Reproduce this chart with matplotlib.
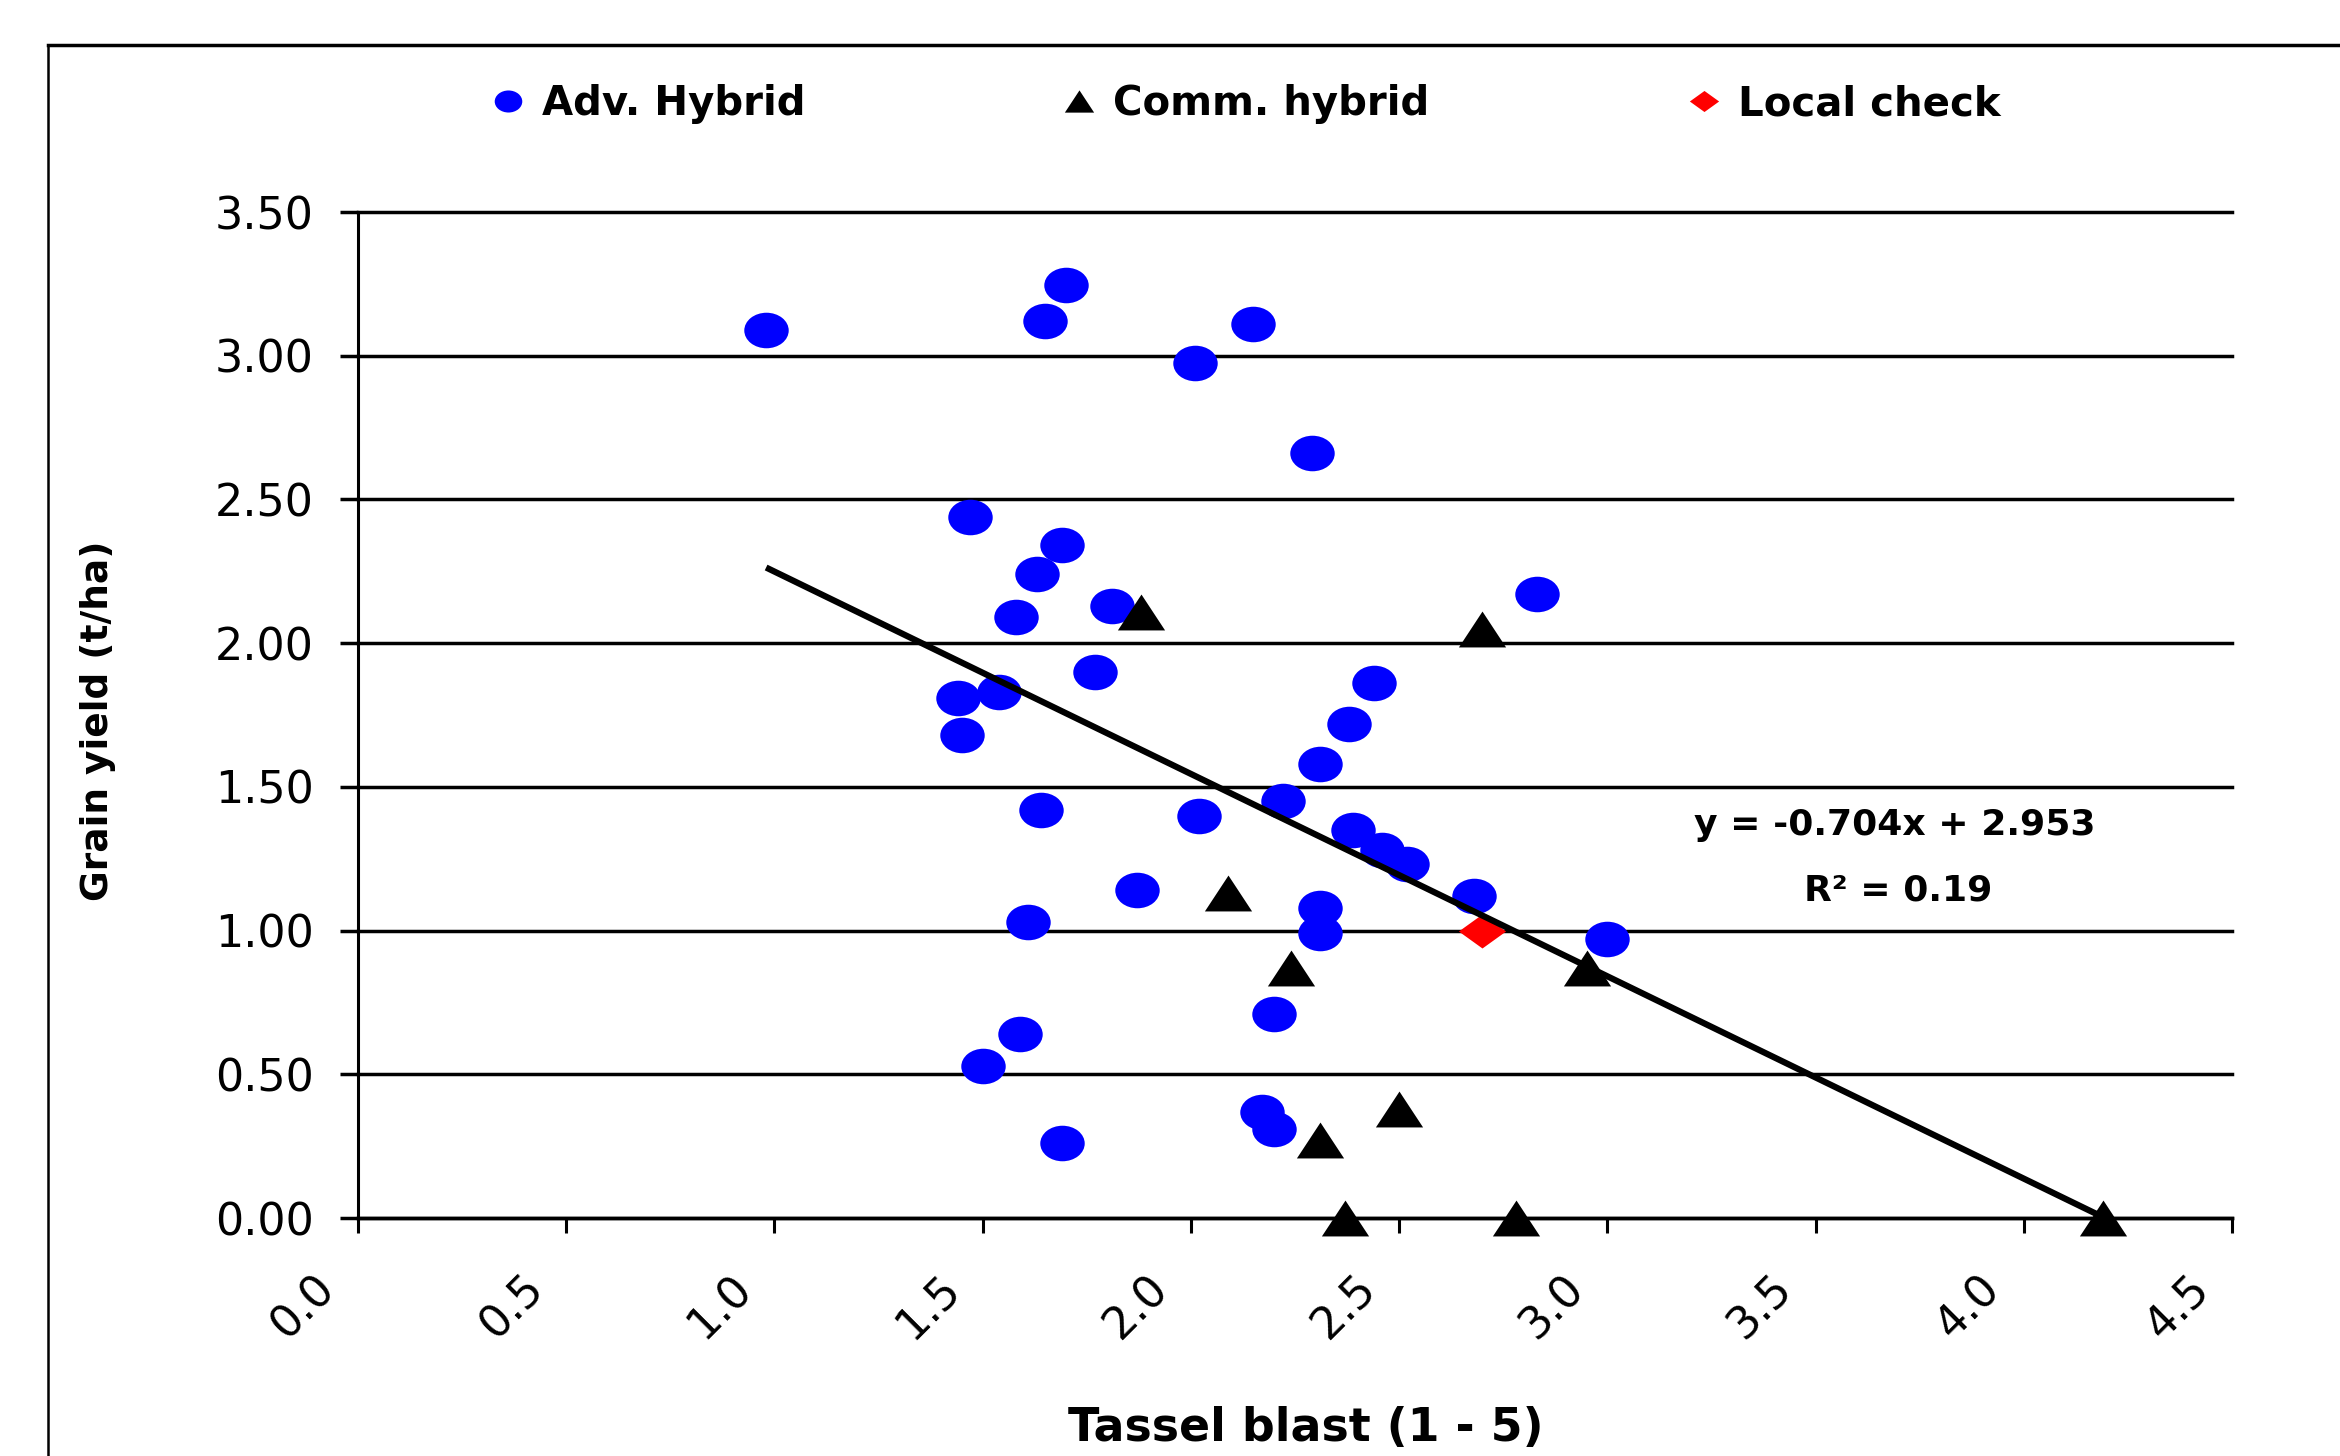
import numpy as np
import matplotlib
matplotlib.use("Agg")
import matplotlib.pyplot as plt
from matplotlib.path import Path
from matplotlib.transforms import Affine2D, ScaledTranslation
from matplotlib.lines import Line2D

# ---------------- data ----------------
adv_x = [0.98, 1.70, 1.65, 2.15, 2.01, 2.29, 1.47, 1.69, 1.63, 1.81, 1.58, 2.83,
         1.77, 1.44, 1.54, 1.45, 2.44, 2.38, 2.31, 2.22, 1.64, 2.02, 2.39, 2.46,
         2.52, 2.68, 1.87, 2.31, 2.31, 1.61, 3.00, 1.59, 1.50, 2.20, 2.17, 2.20, 1.69]
adv_y = [3.09, 3.245, 3.12, 3.11, 2.975, 2.66, 2.44, 2.34, 2.24, 2.13, 2.09, 2.17,
         1.90, 1.81, 1.83, 1.68, 1.86, 1.72, 1.58, 1.45, 1.42, 1.40, 1.35, 1.28,
         1.23, 1.12, 1.14, 1.08, 0.99, 1.03, 0.97, 0.64, 0.53, 0.71, 0.37, 0.31, 0.26]

comm_x = [1.88, 2.70, 2.09, 2.24, 2.95, 2.50, 2.31, 2.37, 2.78, 4.19]
comm_y = [2.11, 2.05, 1.13, 0.87, 0.87, 0.38, 0.27, 0.00, 0.00, 0.00]

local_x = [2.70]
local_y = [1.00]

slope, intercept, r2 = -0.704, 2.953, 0.19

x_ticks = [0.0, 0.5, 1.0, 1.5, 2.0, 2.5, 3.0, 3.5, 4.0, 4.5]
y_ticks = [0.0, 0.5, 1.0, 1.5, 2.0, 2.5, 3.0, 3.5]

series_labels = ["Adv. Hybrid", "Comm. hybrid", "Local check"]

# ---------------- figure ----------------
W, H = 2340, 1456
fig = plt.figure(figsize=(W / 100, H / 100), dpi=100)
ax = fig.add_axes([358 / W, 1 - 1218 / H, (2232 - 358) / W, (1218 - 212) / H])

ellipse = Affine2D().scale(1.0, 0.8).transform_path(Path.unit_circle())
tri = Path([(0, 0.76), (-1, -0.76), (1, -0.76), (0, 0.76)],
           [Path.MOVETO, Path.LINETO, Path.LINETO, Path.CLOSEPOLY])
diam = Path([(0, 0.72), (-1, 0), (0, -0.72), (1, 0), (0, 0.72)],
            [Path.MOVETO, Path.LINETO, Path.LINETO, Path.LINETO, Path.CLOSEPOLY])

ax.plot(adv_x, adv_y, ls="none", marker=ellipse, ms=32, mfc="#0000FF",
        mec="#0000FF", mew=0, label=series_labels[0], zorder=3)
ax.plot(comm_x, comm_y, ls="none", marker=tri, ms=34, mfc="black",
        mec="black", mew=0, label=series_labels[1], zorder=4, clip_on=False)
ax.plot(local_x, local_y, ls="none", marker=diam, ms=34, mfc="#FF0000",
        mec="#FF0000", mew=0, label=series_labels[2], zorder=4)

all_x = np.array(adv_x + comm_x + local_x)
xl = np.array([all_x.min(), all_x.max()])
ax.plot(xl, slope * xl + intercept, color="black", lw=4.5, zorder=5,
        solid_capstyle="butt", clip_on=False)

ax.set_xlim(0, 4.5)
ax.set_ylim(0, 3.5)
ax.set_xticks(x_ticks)
ax.set_yticks(y_ticks)
ax.set_xticklabels([f"{v:.1f}" for v in x_ticks], rotation=45, ha="right",
                   va="top", rotation_mode="anchor", fontsize=32)
ax.set_yticklabels([f"{v:.2f}" for v in y_ticks], fontsize=32)

ax.yaxis.grid(True, color="black", lw=2.5)
ax.set_axisbelow(True)
for gl in ax.get_ygridlines():
    gl.set_clip_on(False)

for s in ["top", "right"]:
    ax.spines[s].set_visible(False)
ax.spines["left"].set_linewidth(2.2)
ax.spines["bottom"].set_linewidth(2.5)

ax.tick_params(axis="y", direction="out", length=13, width=2.5, pad=19)
ax.tick_params(axis="x", direction="out", length=11, width=2.2, pad=14)

# shift rotated x tick labels so they end left of their ticks (as in reference)
off = ScaledTranslation(-45 / 100, -14 / 100, fig.dpi_scale_trans)
for tick in ax.xaxis.get_major_ticks():
    tick.label1.set_transform(tick.label1.get_transform() + off)

ax.set_xlabel("Tassel blast (1 - 5)", fontsize=33, fontweight="bold")
ax.xaxis.set_label_coords(0.506, -0.209)
ax.xaxis.label.set_va("center")
ax.set_ylabel("Grain yield (t/ha)", fontsize=27, fontweight="bold")
ax.yaxis.set_label_coords(-0.139, 0.494)
ax.yaxis.label.set_va("center")

fig.text(1895 / W, 1 - 825 / H, f"y = {slope:.3f}x + {intercept:.3f}",
         fontsize=26, fontweight="bold", ha="center", va="center")
fig.text(1898 / W, 1 - 890 / H, f"R\u00b2 = {r2:.2f}",
         fontsize=26, fontweight="bold", ha="center", va="center")

leg = ax.legend(loc="center", bbox_to_anchor=(1248 / W, 1 - 104 / H),
                bbox_transform=fig.transFigure, ncol=3, frameon=False,
                markerscale=0.62, handlelength=0.6, handletextpad=0.55,
                columnspacing=6.5, prop={"size": 29, "weight": "bold"})

# outer chart frame (cropped at right/bottom)
fig.add_artist(Line2D([48 / W, 1.0], [1 - 45 / H, 1 - 45 / H],
                      transform=fig.transFigure, color="black", lw=2.5))
fig.add_artist(Line2D([48 / W, 48 / W], [1 - 45 / H, 0.0],
                      transform=fig.transFigure, color="black", lw=1.8))

fig.savefig("out.png", dpi=100, facecolor="white")
